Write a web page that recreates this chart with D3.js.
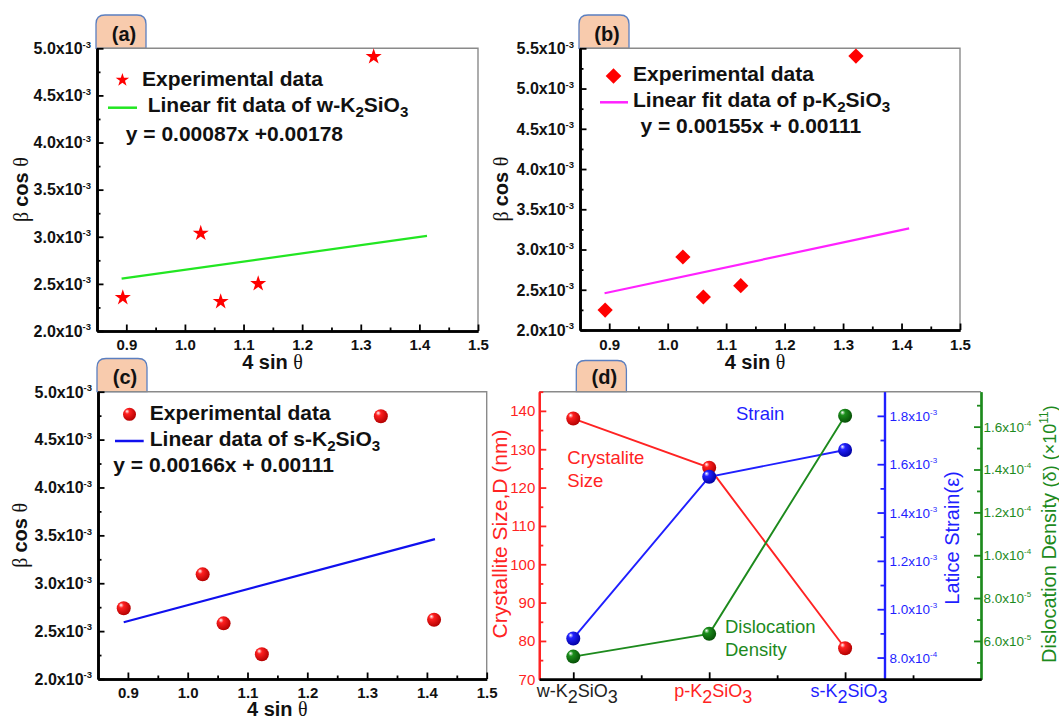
<!DOCTYPE html>
<html><head><meta charset="utf-8">
<script src="https://cdn.jsdelivr.net/npm/d3@7"></script>
<style>
body{margin:0;background:#fff}
svg{display:block}
text{font-family:"Liberation Sans",Arial,sans-serif}
</style>
</head><body>
<svg id="c" width="1059" height="720"></svg>
<script>
// ---------------- DATA ----------------
const xDomain = [0.85, 1.5];
const xTickValues = [0.9, 1.0, 1.1, 1.2, 1.3, 1.4, 1.5];
const xTickLabels = ["0.9", "1.0", "1.1", "1.2", "1.3", "1.4", "1.5"];
const xMinorTicks = [0.95, 1.05, 1.15, 1.25, 1.35, 1.45];

// panel (a) w-K2SiO3
const xA = [0.894, 1.027, 1.061, 1.125, 1.322];
const yA = [2.354e-3, 3.037e-3, 2.312e-3, 2.502e-3, 4.911e-3];
const fitXA = [0.892, 1.413];
const fitYA = [2.556e-3, 3.009e-3];
const yTicksA = [2.0e-3, 2.5e-3, 3.0e-3, 3.5e-3, 4.0e-3, 4.5e-3, 5.0e-3];
const yTickLabelsA = ["2.0", "2.5", "3.0", "3.5", "4.0", "4.5", "5.0"];
const yMinorA = [2.25e-3, 2.75e-3, 3.25e-3, 3.75e-3, 4.25e-3, 4.75e-3];

// panel (b) p-K2SiO3
const xB = [0.893, 1.026, 1.061, 1.125, 1.322];
const yB = [2.248e-3, 2.907e-3, 2.410e-3, 2.550e-3, 5.404e-3];
const fitXB = [0.892, 1.413];
const fitYB = [2.456e-3, 3.263e-3];
const yTicksB = [2.0e-3, 2.5e-3, 3.0e-3, 3.5e-3, 4.0e-3, 4.5e-3, 5.0e-3, 5.5e-3];
const yTickLabelsB = ["2.0", "2.5", "3.0", "3.5", "4.0", "4.5", "5.0", "5.5"];
const yMinorB = [2.25e-3, 2.75e-3, 3.25e-3, 3.75e-3, 4.25e-3, 4.75e-3, 5.25e-3];

// panel (c) s-K2SiO3
const xC = [0.893, 1.025, 1.060, 1.124, 1.323, 1.412];
const yC = [2.738e-3, 3.093e-3, 2.581e-3, 2.258e-3, 4.744e-3, 2.619e-3];
const fitXC = [0.893, 1.4135];
const fitYC = [2.592e-3, 3.461e-3];

// panel (d)
const categories = ["w", "p", "s"];
const crystalliteSize = [138.0, 125.2, 78.1];
const latticeStrain = [0.879e-3, 1.548e-3, 1.659e-3];
const dislocationDensity = [5.27e-5, 6.33e-5, 1.651e-4];
const sizeTicks = [70, 80, 90, 100, 110, 120, 130, 140];
const sizeMinor = [75, 85, 95, 105, 115, 125, 135, 145];
const strainTicks = [0.8e-3, 1.0e-3, 1.2e-3, 1.4e-3, 1.6e-3, 1.8e-3];
const strainTickMant = ["8.0", "1.0", "1.2", "1.4", "1.6", "1.8"];
const strainTickExp = ["-4", "-3", "-3", "-3", "-3", "-3"];
const strainMinor = [0.9e-3, 1.1e-3, 1.3e-3, 1.5e-3, 1.7e-3];
const disTicks = [6e-5, 8e-5, 1.0e-4, 1.2e-4, 1.4e-4, 1.6e-4];
const disTickMant = ["6.0", "8.0", "1.0", "1.2", "1.4", "1.6"];
const disTickExp = ["-5", "-5", "-4", "-4", "-4", "-4"];
const disMinor = [5e-5, 7e-5, 9e-5, 1.1e-4, 1.3e-4, 1.5e-4, 1.7e-4];

// ---------------- DRAW ----------------
const svg = d3.select("#c");
const defs = svg.append("defs");
function sphereGrad(id, c1, c2) {
  const g = defs.append("radialGradient").attr("id", id)
    .attr("cx", "40%").attr("cy", "38%").attr("r", "65%").attr("fx", "30%").attr("fy", "26%");
  g.append("stop").attr("offset", "0%").attr("stop-color", "#ffffff");
  g.append("stop").attr("offset", "28%").attr("stop-color", c1);
  g.append("stop").attr("offset", "100%").attr("stop-color", c2);
}
sphereGrad("gRed", "#ff2020", "#b00000");
sphereGrad("gBlue", "#2222ff", "#0000a0");
sphereGrad("gGreen", "#1c8f1c", "#064d06");

const BOLD = "bold";
function tab(x0, x1, y0, y1, label) {
  const r = 9;
  svg.append("path")
    .attr("d", `M${x0},${y1}V${y0 + r}Q${x0},${y0} ${x0 + r},${y0}H${x1 - r}Q${x1},${y0} ${x1},${y0 + r}V${y1}Z`)
    .attr("fill", "#f8cbad").attr("stroke", "#5b7fc0").attr("stroke-width", 1.3);
  svg.append("text").attr("x", (x0 + x1) / 2 + 3).attr("y", y1 - 7.5)
    .attr("text-anchor", "middle").attr("font-size", 20).attr("font-weight", BOLD)
    .attr("fill", "#111").text(label);
}

function styleAxis(g, w) {
  g.select(".domain").attr("stroke", "#000").attr("stroke-width", 2.6);
  g.selectAll(".tick line").attr("stroke", "#000").attr("stroke-width", w || 1.8);
}

function betaTitle(cx, cy) {
  const t = svg.append("text").attr("transform", `translate(${cx},${cy}) rotate(-90)`)
    .attr("text-anchor", "middle").attr("font-size", 20).attr("fill", "#111");
  t.append("tspan").attr("font-family", "Liberation Serif, serif").text("β ");
  t.append("tspan").attr("font-weight", BOLD).text("cos ");
  t.append("tspan").attr("font-family", "Liberation Serif, serif").text("θ");
}
function sinTitle(cx, y) {
  const t = svg.append("text").attr("x", cx).attr("y", y)
    .attr("text-anchor", "middle").attr("font-size", 20).attr("fill", "#111");
  t.append("tspan").attr("font-weight", BOLD).text("4 sin ");
  t.append("tspan").attr("font-family", "Liberation Serif, serif").text("θ");
}

function subText(x, y, parts, size, extra, subShift) {
  const t = svg.append("text").attr("x", x).attr("y", y).attr("font-size", size);
  if (extra) extra(t);
  const sh = subShift || size * 0.3;
  let down = false;
  parts.forEach(([s, sub]) => {
    const ts = t.append("tspan").text(s);
    if (sub && !down) { ts.attr("dy", sh).attr("font-size", size * 0.72); down = true; }
    else if (!sub && down) { ts.attr("dy", -sh); down = false; }
    else if (sub) ts.attr("font-size", size * 0.72);
  });
  return t;
}

function scatterPanel(cfg) {
  const { L, R, T, B } = cfg.box;
  const x = d3.scaleLinear().domain(xDomain).range([L, R]);
  const y = d3.scaleLinear().domain(cfg.yDomain).range([B, T]);
  tab(L - 1, L + 49, cfg.tabTop, T, cfg.tabLabel);
  svg.append("path").attr("d", `M${L},${T}H${R}V${B}`).attr("fill", "none")
    .attr("stroke", "#8a8a8a").attr("stroke-width", 1.4);

  const gxm = svg.append("g").attr("transform", `translate(0,${B})`)
    .call(d3.axisBottom(x).tickValues(xMinorTicks).tickSize(-3.5).tickSizeOuter(0).tickFormat(""));
  styleAxis(gxm);
  const gx = svg.append("g").attr("transform", `translate(0,${B})`)
    .call(d3.axisBottom(x).tickValues(xTickValues).tickSize(-6.5).tickSizeOuter(0).tickPadding(cfg.xPad)
      .tickFormat((d, i) => xTickLabels[i]));
  styleAxis(gx);
  gx.selectAll(".tick text").attr("font-size", 15).attr("font-weight", BOLD).attr("fill", "#111")
    .attr("font-family", "Liberation Sans, Arial, sans-serif");

  const gym = svg.append("g").attr("transform", `translate(${L},0)`)
    .call(d3.axisLeft(y).tickValues(cfg.yMinor).tickSize(-3.5).tickSizeOuter(0).tickFormat(""));
  styleAxis(gym);
  const gy = svg.append("g").attr("transform", `translate(${L},0)`)
    .call(d3.axisLeft(y).tickValues(cfg.yTicks).tickSize(-6.5).tickSizeOuter(0).tickFormat(""));
  styleAxis(gy);
  cfg.yTicks.forEach((v, i) => {
    const t = svg.append("text").attr("x", L - 6).attr("y", y(v) + 5.8)
      .attr("text-anchor", "end").attr("font-size", 16).attr("font-weight", BOLD).attr("fill", "#111");
    t.append("tspan").text(cfg.yTickLabels[i] + "x10");
    t.append("tspan").attr("dy", -6.5).attr("font-size", 9.5).text("-3");
  });

  svg.append("path").datum(d3.zip(cfg.fitX, cfg.fitY))
    .attr("d", d3.line().x(d => x(d[0])).y(d => y(d[1])))
    .attr("fill", "none").attr("stroke", cfg.fitColor).attr("stroke-width", 2.2);

  const pts = d3.zip(cfg.xs, cfg.ys);
  cfg.marker(svg.append("g"), pts.map(d => [x(d[0]), y(d[1])]));

  betaTitle(cfg.titleYx, (T + B) / 2);
  sinTitle((L + R) / 2 - 15, B + cfg.titleXdy);

  const lg = cfg.legend;
  cfg.marker(svg.append("g"), [[lg.mx, lg.my]], true);
  svg.append("text").attr("x", lg.tx).attr("y", lg.ty1).attr("font-size", 21).attr("font-weight", BOLD)
    .attr("fill", "#111").text("Experimental data");
  svg.append("line").attr("x1", lg.lx0).attr("x2", lg.lx1).attr("y1", lg.ly).attr("y2", lg.ly)
    .attr("stroke", cfg.fitColor).attr("stroke-width", 2.5);
  subText(lg.tx2, lg.ty2, [[lg.fitText, false], ["2", true], ["SiO", false], ["3", true]], 21,
    t => t.attr("font-weight", BOLD).attr("fill", "#111"), 5);
  svg.append("text").attr("x", lg.ex).attr("y", lg.ey).attr("font-size", 21).attr("font-weight", BOLD)
    .attr("fill", "#111").text(lg.eq);
}

const starMarker = (g, pts, small) => {
  g.selectAll("path").data(pts).join("path")
    .attr("transform", d => `translate(${d[0]},${d[1]})`)
    .attr("d", d3.symbol().type(d3.symbolStar).size(small ? 56 : 80))
    .attr("fill", "#ff0000");
};
const diamondMarker = (g, pts, small) => {
  g.selectAll("path").data(pts).join("path")
    .attr("transform", d => `translate(${d[0]},${d[1]}) rotate(45)`)
    .attr("d", d3.symbol().type(d3.symbolSquare).size(small ? 122 : 116))
    .attr("fill", "#ff0000");
};
const sphereMarker = (g, pts, small) => {
  g.selectAll("circle").data(pts).join("circle")
    .attr("cx", d => d[0]).attr("cy", d => d[1]).attr("r", small ? 6.5 : 7)
    .attr("fill", "url(#gRed)");
};

scatterPanel({
  box: { L: 97, R: 478, T: 48.3, B: 331 }, yDomain: [2.0e-3, 5.0e-3],
  yTicks: yTicksA, yTickLabels: yTickLabelsA, yMinor: yMinorA,
  xs: xA, ys: yA, fitX: fitXA, fitY: fitYA, fitColor: "#22e622",
  marker: starMarker, tabTop: 15, tabLabel: "(a)", xPad: 8.5, titleYx: 28, titleXdy: 38,
  legend: { mx: 122.4, my: 80, tx: 142, ty1: 86, lx0: 108, lx1: 137, ly: 107.7,
    tx2: 147.7, ty2: 112, fitText: "Linear fit data of w-K", ex: 125.8, ey: 141,
    eq: "y = 0.00087x +0.00178" }
});
scatterPanel({
  box: { L: 580, R: 960, T: 48.3, B: 330 }, yDomain: [2.0e-3, 5.5e-3],
  yTicks: yTicksB, yTickLabels: yTickLabelsB, yMinor: yMinorB,
  xs: xB, ys: yB, fitX: fitXB, fitY: fitYB, fitColor: "#ff22ff",
  marker: diamondMarker, tabTop: 15, tabLabel: "(b)", xPad: 9, titleYx: 508, titleXdy: 39,
  legend: { mx: 613.5, my: 76, tx: 633, ty1: 81, lx0: 600, lx1: 628, ly: 102.3,
    tx2: 633, ty2: 107, fitText: "Linear fit data of p-K", ex: 640.5, ey: 132.5,
    eq: "y = 0.00155x + 0.00111" }
});
scatterPanel({
  box: { L: 98, R: 486.7, T: 391.7, B: 679 }, yDomain: [2.0e-3, 5.0e-3],
  yTicks: yTicksA, yTickLabels: yTickLabelsA, yMinor: yMinorA,
  xs: xC, ys: yC, fitX: fitXC, fitY: fitYC, fitColor: "#1010ee",
  marker: sphereMarker, tabTop: 358.5, tabLabel: "(c)", xPad: 8, titleYx: 27, titleXdy: 37,
  legend: { mx: 129.5, my: 414.3, tx: 149.8, ty1: 419.5, lx0: 115, lx1: 143.7, ly: 441,
    tx2: 149.8, ty2: 446, fitText: "Linear data of s-K", ex: 113.3, ey: 472,
    eq: "y = 0.00166x + 0.00111" }
});

// ---------------- PANEL (d) ----------------
(function () {
  const L = 539.3, R = 981, T = 391.7, B = 679.3, BX = 884.5;
  const RED = "#ff2323", BLUE = "#1f1fff", GREEN = "#1d8a1d";
  const x = d3.scaleLinear().domain([-0.25, 3.0]).range([L, R]);
  const yS = d3.scaleLinear().domain([70, 145]).range([B, T]);
  const yE = d3.scaleLinear().domain([0.71e-3, 1.9e-3]).range([B, T]);
  const yD = d3.scaleLinear().domain([4.21e-5, 1.763e-4]).range([B, T]);

  tab(576.3, 626.4, 360.5, T, "(d)");
  svg.append("line").attr("x1", L).attr("x2", R).attr("y1", T).attr("y2", T)
    .attr("stroke", "#8a8a8a").attr("stroke-width", 1.4);

  function colAxis(g, color) {
    g.select(".domain").attr("stroke", color).attr("stroke-width", 2.2);
    g.selectAll(".tick line").attr("stroke", color).attr("stroke-width", 1.8);
  }
  const gsm = svg.append("g").attr("transform", `translate(${L},0)`)
    .call(d3.axisLeft(yS).tickValues(sizeMinor).tickSize(-4).tickSizeOuter(0).tickFormat(""));
  colAxis(gsm, RED);
  const gs = svg.append("g").attr("transform", `translate(${L},0)`)
    .call(d3.axisLeft(yS).tickValues(sizeTicks).tickSize(-7).tickSizeOuter(0).tickPadding(4));
  colAxis(gs, RED);
  gs.selectAll(".tick text").attr("fill", RED).attr("font-size", 15)
    .attr("font-family", "Liberation Sans, Arial, sans-serif");

  const gem = svg.append("g").attr("transform", `translate(${BX},0)`)
    .call(d3.axisRight(yE).tickValues(strainMinor).tickSize(-4).tickSizeOuter(0).tickFormat(""));
  colAxis(gem, BLUE);
  const ge = svg.append("g").attr("transform", `translate(${BX},0)`)
    .call(d3.axisRight(yE).tickValues(strainTicks).tickSize(-7).tickSizeOuter(0).tickFormat(""));
  colAxis(ge, BLUE);
  strainTicks.forEach((v, i) => {
    const t = svg.append("text").attr("x", BX + 5).attr("y", yE(v) + 5)
      .attr("font-size", 13.5).attr("fill", BLUE);
    t.append("tspan").text(strainTickMant[i] + "x10");
    t.append("tspan").attr("dy", -6).attr("font-size", 8).text(strainTickExp[i]);
  });

  const gdm = svg.append("g").attr("transform", `translate(${R},0)`)
    .call(d3.axisRight(yD).tickValues(disMinor).tickSize(-4).tickSizeOuter(0).tickFormat(""));
  colAxis(gdm, GREEN);
  const gd = svg.append("g").attr("transform", `translate(${R},0)`)
    .call(d3.axisRight(yD).tickValues(disTicks).tickSize(-7).tickSizeOuter(0).tickFormat(""));
  colAxis(gd, GREEN);
  disTicks.forEach((v, i) => {
    const t = svg.append("text").attr("x", R + 2.5).attr("y", yD(v) + 5)
      .attr("font-size", 13.5).attr("fill", GREEN);
    t.append("tspan").text(disTickMant[i] + "x10");
    t.append("tspan").attr("dy", -6).attr("font-size", 8).text(disTickExp[i]);
  });

  const gbm = svg.append("g").attr("transform", `translate(0,${B})`)
    .call(d3.axisBottom(x).tickValues([0.5, 1.5, 2.5]).tickSize(-4).tickSizeOuter(0).tickFormat(""));
  styleAxis(gbm);
  const gb = svg.append("g").attr("transform", `translate(0,${B})`)
    .call(d3.axisBottom(x).tickValues([0, 1, 2]).tickSize(-7).tickSizeOuter(0).tickFormat(""));
  styleAxis(gb);
  const catColors = ["#222", RED, BLUE];
  categories.forEach((c, i) => {
    const t = subText(0, B + 18, [[c + "-K", false], ["2", true], ["SiO", false], ["3", true]], 18,
      tt => tt.attr("fill", catColors[i]));
    t.selectAll("tspan").attr("font-size", 18);
    t.attr("text-anchor", "middle").attr("x", x(i) + 4);
  });

  const idx = [0, 1, 2];
  const series = [
    [crystalliteSize, yS, RED, "url(#gRed)"],
    [latticeStrain, yE, BLUE, "url(#gBlue)"],
    [dislocationDensity, yD, GREEN, "url(#gGreen)"]
  ];
  series.forEach(([vals, sc, col]) => {
    svg.append("path").datum(idx)
      .attr("d", d3.line().x(i => x(i)).y(i => sc(vals[i])))
      .attr("fill", "none").attr("stroke", col).attr("stroke-width", 1.9);
  });
  series.forEach(([vals, sc, col, grad]) => {
    svg.append("g").selectAll("circle").data(idx).join("circle")
      .attr("cx", i => x(i)).attr("cy", i => sc(vals[i])).attr("r", 7).attr("fill", grad);
  });

  const ann = (tx, ty, s, col) => svg.append("text").attr("x", tx).attr("y", ty)
    .attr("font-size", 18.5).attr("fill", col).text(s);
  ann(567.3, 463.5, "Crystalite", RED);
  ann(567.3, 486.5, "Size", RED);
  ann(736, 419.5, "Strain", BLUE);
  ann(725, 632.5, "Dislocation", GREEN);
  ann(725, 655.5, "Density", GREEN);

  svg.append("text").attr("transform", `translate(507,534) rotate(-90)`)
    .attr("text-anchor", "middle").attr("font-size", 21).attr("fill", RED)
    .text("Crystallite Size,D (nm)");
  svg.append("text").attr("transform", `translate(959,538) rotate(-90)`)
    .attr("text-anchor", "middle").attr("font-size", 20).attr("fill", BLUE)
    .text("Latice Strain(ε)");
  const gt = svg.append("text").attr("transform", `translate(1056,663) rotate(-90)`)
    .attr("font-size", 20).attr("fill", GREEN);
  gt.append("tspan").text("Dislocation Density ");
  gt.append("tspan").attr("font-size", 18).text("(δ) (×10");
  gt.append("tspan").attr("font-size", 12).attr("dy", -8).text("11");
  gt.append("tspan").attr("font-size", 18).attr("dy", 8).text(")");
})();
</script>
</body></html>
